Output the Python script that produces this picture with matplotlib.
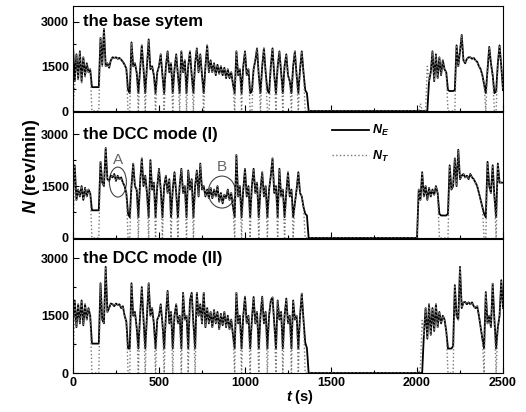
import numpy as np
import matplotlib.pyplot as plt
from matplotlib.patches import Ellipse
from matplotlib.lines import Line2D
from matplotlib.ticker import MultipleLocator

plt.rcParams['font.family'] = ['Liberation Sans', 'DejaVu Sans']
plt.rcParams['font.weight'] = 'bold'
plt.rcParams['mathtext.fontset'] = 'custom'
plt.rcParams['mathtext.it'] = 'Liberation Sans:italic:bold'
plt.rcParams['mathtext.rm'] = 'Liberation Sans:bold'

# time samples (s), one row = 100 s
t_s = [0, 10, 20, 30, 40, 50, 60, 70, 80, 90,
       100, 110, 120, 130, 140, 150, 160, 170, 180, 190,
       200, 210, 220, 230, 240, 250, 260, 270, 280, 290,
       300, 310, 320, 330, 340, 350, 360, 370, 380, 390,
       400, 410, 420, 430, 440, 450, 460, 470, 480, 490,
       500, 510, 520, 530, 540, 550, 560, 570, 580, 590,
       600, 610, 620, 630, 640, 650, 660, 670, 680, 690,
       700, 710, 720, 730, 740, 750, 760, 770, 780, 790,
       800, 810, 820, 830, 840, 850, 860, 870, 880, 890,
       900, 910, 920, 930, 940, 950, 960, 970, 980, 990,
       1000, 1010, 1020, 1030, 1040, 1050, 1060, 1070, 1080, 1090,
       1100, 1110, 1120, 1130, 1140, 1150, 1160, 1170, 1180, 1190,
       1200, 1210, 1220, 1230, 1240, 1250, 1260, 1270, 1280, 1290,
       1300, 1310, 1320, 1330, 1340, 1350, 1360, 1370, 1380, 1990,
       2000, 2010, 2020, 2030, 2040, 2050, 2060, 2070, 2080, 2090,
       2100, 2110, 2120, 2130, 2140, 2150, 2160, 2170, 2180, 2190,
       2200, 2210, 2220, 2230, 2240, 2250, 2260, 2270, 2280, 2290,
       2300, 2310, 2320, 2330, 2340, 2350, 2360, 2370, 2380, 2390,
       2400, 2410, 2420, 2430, 2440, 2450, 2460, 2470, 2480, 2490,
       2500]

# the base system
ne_base = [2200, 1000, 1900, 1100, 2000, 1000, 1800, 1200, 1600, 1300,
           1400, 800, 800, 800, 800, 800, 2450, 1550, 2750, 1500,
           1600, 1450, 1700, 1800, 1780, 1800, 1750, 1780, 1720, 1650,
           1550, 1420, 700, 600, 2300, 1500, 1600, 1300, 600, 1400,
           2200, 1400, 600, 1500, 2400, 1400, 1500, 1200, 600, 1300,
           1500, 1900, 1200, 600, 1500, 2000, 1300, 1600, 600, 1400,
           1900, 1200, 600, 2000, 1300, 1700, 600, 1500, 2000, 1200,
           600, 1600, 2100, 1300, 1900, 1200, 600, 1500, 2200, 1300,
           1700, 1300, 1600, 1200, 1550, 1250, 1500, 1200, 1450, 1100,
           1400, 1100, 1300, 900, 600, 2000, 1200, 1400, 600, 1500,
           2000, 1200, 1400, 600, 650, 1400, 1700, 2100, 1200, 600,
           1500, 2100, 1300, 700, 600, 1500, 2100, 1200, 600, 1500,
           2000, 1300, 600, 1500, 1900, 1200, 1000, 600, 1500, 2000,
           1200, 600, 1400, 2000, 1300, 700, 600, 0, 0, 0,
           0, 0, 0, 0, 0, 0, 0, 1000, 1300, 2000,
           1000, 1900, 1100, 1800, 1200, 1700, 1400, 1300, 700, 670,
           670, 670, 700, 2200, 1500, 2000, 2550, 1700, 1600, 1750,
           1800, 1800, 1750, 1780, 1700, 1650, 1500, 1400, 1200, 900,
           600, 1400, 2150, 1600, 1200, 600, 650, 1600, 2200, 1500,
           700]
nt_base = [0, 900, 1900, 1000, 2000, 900, 1800, 1100, 1600, 1300,
           1400, 0, 0, 0, 0, 0, 2450, 1500, 2750, 1500,
           1600, 1450, 1700, 1800, 1780, 1800, 1750, 1780, 1720, 1650,
           1550, 1400, 0, 0, 2300, 1500, 1600, 1300, 0, 1400,
           2200, 1400, 0, 1500, 2400, 1400, 1500, 1200, 0, 1300,
           1500, 1900, 1200, 0, 1500, 2000, 1300, 1600, 0, 1400,
           1900, 1200, 0, 2000, 1300, 1700, 0, 1500, 2000, 1200,
           0, 1600, 2100, 1300, 1900, 1200, 0, 1500, 2200, 1300,
           1700, 1300, 1600, 1200, 1550, 1250, 1500, 1200, 1450, 1100,
           1400, 1100, 1300, 900, 0, 2000, 1200, 1400, 0, 1500,
           2000, 1200, 1400, 0, 0, 1400, 1700, 2100, 1200, 0,
           1500, 2100, 1300, 0, 0, 1500, 2100, 1200, 0, 1500,
           2000, 1300, 0, 1500, 1900, 1200, 1000, 0, 1500, 2000,
           1200, 0, 1400, 2000, 1300, 0, 0, 0, 0, 0,
           0, 0, 250, 0, 0, 0, 1500, 1000, 1300, 2000,
           1000, 1900, 1100, 1800, 1200, 1700, 1400, 1300, 0, 0,
           0, 0, 0, 2200, 1500, 2000, 2550, 1700, 1600, 1750,
           1800, 1800, 1750, 1780, 1700, 1650, 1500, 1400, 1200, 900,
           0, 1400, 2150, 1600, 1200, 0, 0, 1600, 2200, 1500,
           700]

# the DCC mode (I)
ne_dcc1 = [1300, 2100, 1100, 1400, 1200, 1500, 1100, 1450, 1200, 1400,
           1300, 800, 800, 800, 800, 800, 2200, 1600, 1500, 2600,
           1700, 1650, 1800, 1750, 1850, 1650, 1800, 1700, 1750, 1600,
           1500, 1300, 700, 600, 1500, 2150, 1500, 1400, 600, 1600,
           2300, 1500, 1800, 1300, 600, 2250, 1400, 1600, 600, 1500,
           2000, 1400, 600, 1500, 1800, 1300, 1700, 600, 1400, 1900,
           1300, 600, 1500, 2000, 1300, 1500, 600, 1950, 1400, 1700,
           600, 1500, 1950, 1200, 2150, 1400, 1500, 1200, 1400, 1150,
           1450, 1150, 1400, 1200, 1500, 1050, 1300, 1000, 1250, 1150,
           1400, 1100, 1300, 900, 600, 2400, 1200, 1500, 600, 1400,
           2000, 1200, 1500, 600, 1500, 2000, 1300, 1600, 600, 1400,
           1900, 1200, 1500, 600, 1400, 1800, 2300, 1300, 1500, 600,
           2000, 1200, 1400, 600, 1300, 1900, 1200, 1400, 600, 1000,
           1400, 1900, 1300, 1200, 900, 700, 650, 0, 0, 0,
           0, 1400, 1100, 1900, 1200, 1500, 1100, 1450, 1200, 1400,
           1250, 1500, 1300, 700, 650, 650, 650, 650, 700, 2100,
           1400, 1500, 2300, 1500, 2550, 1700, 1800, 1850, 1750, 1800,
           1700, 1850, 1750, 1700, 1600, 1500, 1300, 1100, 900, 700,
           600, 2200, 1500, 1300, 2100, 1200, 600, 2150, 1600, 1600,
           1600]
nt_dcc1 = [0, 2100, 1100, 1400, 1200, 1500, 1100, 1450, 1200, 1400,
           1300, 0, 0, 0, 0, 0, 2200, 1600, 1500, 2600,
           1700, 1650, 1800, 1750, 1850, 1650, 1800, 1700, 1750, 1600,
           1500, 1300, 0, 0, 1500, 2150, 1500, 1400, 0, 1600,
           2300, 1500, 1800, 1300, 0, 2250, 1400, 1600, 0, 1500,
           2000, 1400, 0, 1500, 1800, 1300, 1700, 0, 1400, 1900,
           1300, 0, 1500, 2000, 1300, 1500, 0, 1950, 1400, 1700,
           0, 1500, 1950, 1200, 2150, 1400, 1500, 1200, 1400, 1150,
           1450, 1150, 1400, 1200, 1500, 1050, 1300, 1000, 1250, 1150,
           1400, 1100, 1300, 900, 0, 2400, 1200, 1500, 0, 1400,
           2000, 1200, 1500, 0, 1500, 2000, 1300, 1600, 0, 1400,
           1900, 1200, 1500, 0, 1400, 1800, 2300, 1300, 1500, 0,
           2000, 1200, 1400, 0, 1300, 1900, 1200, 1400, 0, 1000,
           1400, 1900, 1300, 1200, 900, 0, 0, 0, 0, 0,
           0, 1400, 1100, 1900, 1200, 1500, 1100, 1450, 1200, 1400,
           1250, 1500, 1300, 0, 0, 0, 0, 0, 0, 2100,
           1400, 1500, 2300, 1500, 2550, 1700, 1800, 1850, 1750, 1800,
           1700, 1850, 1750, 1700, 1600, 1500, 1300, 1100, 900, 0,
           0, 2200, 1500, 1300, 2100, 1200, 0, 2150, 1600, 1600,
           1600]

# the DCC mode (II)
ne_dcc2 = [1300, 1900, 1200, 1800, 1300, 1900, 1250, 1800, 1400, 1700,
           1500, 770, 770, 770, 770, 770, 2350, 1400, 1300, 2780,
           1600, 1700, 1820, 1800, 1750, 1820, 1780, 1800, 1700, 1750,
           1500, 1350, 640, 640, 2350, 1500, 1600, 1200, 640, 1500,
           2250, 1400, 640, 1500, 2350, 1500, 1700, 1300, 640, 1400,
           1500, 1800, 1300, 640, 1500, 2150, 1300, 1600, 640, 1500,
           1800, 1300, 1500, 640, 2100, 1400, 1500, 640, 1900, 2100,
           1300, 640, 2100, 1500, 1800, 1300, 2100, 1200, 1700, 1300,
           1600, 1200, 1650, 1300, 1600, 1150, 1550, 1250, 1600, 1200,
           1500, 1150, 1400, 1000, 640, 2100, 1300, 1500, 640, 1500,
           2000, 1300, 1500, 640, 1400, 1990, 1300, 1600, 640, 1500,
           2000, 1300, 1600, 640, 1500, 1900, 1980, 1300, 640, 1900,
           1400, 1600, 640, 1500, 1950, 1300, 1500, 640, 1900, 1400,
           1500, 640, 1500, 2080, 1400, 800, 650, 0, 0, 0,
           0, 0, 0, 0, 1000, 1700, 900, 1800, 1000, 1700,
           1100, 1800, 1200, 1600, 1300, 1500, 1400, 1100, 640, 640,
           640, 700, 2300, 1500, 1400, 2780, 1700, 1850, 1860, 1800,
           1850, 1800, 1850, 1750, 1700, 1750, 1500, 1200, 900, 640,
           2120, 1300, 1500, 1200, 2340, 1400, 640, 1200, 1500, 2430,
           1700]
nt_dcc2 = [0, 1900, 1200, 1800, 1300, 1900, 1250, 1800, 1400, 1700,
           1500, 0, 0, 0, 0, 0, 2350, 1400, 1300, 2780,
           1600, 1700, 1820, 1800, 1750, 1820, 1780, 1800, 1700, 1750,
           1500, 1350, 0, 0, 2350, 1500, 1600, 1200, 0, 1500,
           2250, 1400, 0, 1500, 2350, 1500, 1700, 1300, 0, 1400,
           1500, 1800, 1300, 0, 1500, 2150, 1300, 1600, 0, 1500,
           1800, 1300, 1500, 0, 2100, 1400, 1500, 0, 1900, 2100,
           1300, 0, 2100, 1500, 1800, 1300, 2100, 1200, 1700, 1300,
           1600, 1200, 1650, 1300, 1600, 1150, 1550, 1250, 1600, 1200,
           1500, 1150, 1400, 1000, 0, 2100, 1300, 1500, 0, 1500,
           2000, 1300, 1500, 0, 1400, 1990, 1300, 1600, 0, 1500,
           2000, 1300, 1600, 0, 1500, 1900, 1980, 1300, 0, 1900,
           1400, 1600, 0, 1500, 1950, 1300, 1500, 0, 1900, 1400,
           1500, 0, 1500, 2080, 1400, 0, 0, 0, 0, 0,
           0, 0, 150, 1380, 1000, 1700, 900, 1800, 1000, 1700,
           1100, 1800, 1200, 1600, 1300, 1500, 1400, 1100, 0, 0,
           0, 0, 2300, 1500, 1400, 2780, 1700, 1850, 1860, 1800,
           1850, 1800, 1850, 1750, 1700, 1750, 1500, 1200, 900, 0,
           2120, 1300, 1500, 1200, 2340, 1400, 0, 1200, 1500, 2430,
           1700]

titles = ['the base sytem', 'the DCC mode (I)', 'the DCC mode (II)']
ne_all = [ne_base, ne_dcc1, ne_dcc2]
nt_all = [nt_base, nt_dcc1, nt_dcc2]

W, H = 526, 412
fig = plt.figure(figsize=(W / 100, H / 100), dpi=100)

# panel boxes in pixels: (top, bottom), and y-limit top
boxes = [(6, 111, 3520), (112, 238, 3640), (239, 373, 3510)]
axes = []
for i, (top, bot, ytop) in enumerate(boxes):
    ax = fig.add_axes([73 / W, 1 - bot / H, 430 / W, (bot - top) / H])
    ax.plot(t_s, ne_all[i], color='black', lw=1.3, label='$N_E$')
    ax.plot(t_s, nt_all[i], color='#777777', lw=1.0, ls=':', label='$N_T$')
    ax.set_xlim(0, 2500)
    ax.set_ylim(0, ytop)
    ax.set_yticks([0, 1500, 3000])
    ax.yaxis.set_minor_locator(MultipleLocator(750))
    ax.xaxis.set_major_locator(MultipleLocator(500))
    ax.xaxis.set_minor_locator(MultipleLocator(250))
    ax.tick_params(which='both', direction='in', labelsize=9, pad=3, width=0.8)
    ax.tick_params(which='major', length=4)
    ax.tick_params(which='minor', length=2)
    if i < 2:
        ax.tick_params(axis='x', labelbottom=False)
    for sp in ax.spines.values():
        sp.set_linewidth(0.8)
    ax.text(60, 3000, titles[i], fontsize=12, fontweight='bold', va='center', ha='left')
    axes.append(ax)

# circles A and B in the DCC (I) panel
ax = axes[1]
ax.add_patch(Ellipse((261, 1615), 99, 865, fill=False, ec='#444444', lw=0.8))
ax.add_patch(Ellipse((866, 1327), 158, 923, fill=False, ec='#444444', lw=0.8))
ax.text(261, 2260, 'A', color='#666666', fontsize=11, fontweight='normal', ha='center', va='center')
ax.text(866, 2060, 'B', color='#666666', fontsize=11, fontweight='normal', ha='center', va='center')

handles = [Line2D([], [], color='black', lw=1.3),
           Line2D([], [], color='#777777', lw=1.0, ls=':')]
ax.legend(handles, ['$N_E$', '$N_T$'], loc='upper left', bbox_to_anchor=(0.602, 0.91),
          frameon=False, fontsize=9, handlelength=3.0, handletextpad=0.2,
          labelspacing=0.8, borderpad=0, borderaxespad=0)

fig.text(32 / W, 1 - 166 / H, '$N$ (rev/min)', rotation=90, fontsize=13,
         fontweight='bold', ha='center', va='center')
fig.text(300 / W, 1 - 397 / H, '$t$ (s)', fontsize=10.5, fontweight='bold',
         ha='center', va='center')

fig.savefig('out.png', dpi=100)
